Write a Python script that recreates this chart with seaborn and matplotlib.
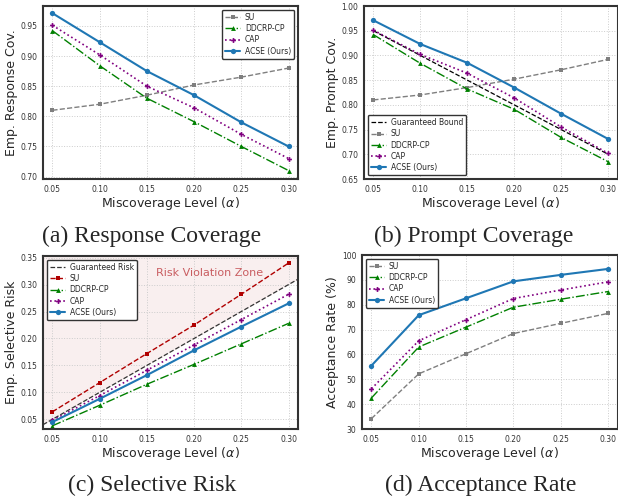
import matplotlib

matplotlib.use("Agg")
import matplotlib.pyplot as plt
import numpy as np
import pandas as pd
import seaborn as sns

# Miscoverage levels shared by all panels
alphas = [0.05, 0.10, 0.15, 0.20, 0.25, 0.30]
methods = ["SU", "DDCRP-CP", "CAP", "ACSE (Ours)"]

# (a) empirical response coverage
resp_su = [0.810, 0.820, 0.835, 0.852, 0.865, 0.880]
resp_ddcrp = [0.942, 0.884, 0.830, 0.791, 0.750, 0.710]
resp_cap = [0.951, 0.902, 0.850, 0.814, 0.770, 0.730]
resp_acse = [0.971, 0.923, 0.875, 0.835, 0.790, 0.750]

# (b) empirical prompt coverage
prompt_su = [0.810, 0.820, 0.835, 0.852, 0.871, 0.892]
prompt_ddcrp = [0.942, 0.884, 0.832, 0.791, 0.734, 0.685]
prompt_cap = [0.951, 0.902, 0.864, 0.814, 0.755, 0.702]
prompt_acse = [0.971, 0.923, 0.885, 0.835, 0.782, 0.731]

# (c) empirical selective risk
risk_su = [0.064, 0.118, 0.172, 0.225, 0.282, 0.340]
risk_ddcrp = [0.038, 0.076, 0.115, 0.152, 0.190, 0.228]
risk_cap = [0.048, 0.094, 0.141, 0.188, 0.235, 0.282]
risk_acse = [0.045, 0.088, 0.132, 0.178, 0.222, 0.265]

# (d) acceptance rate (%)
acc_su = [34.2, 52.2, 60.3, 68.4, 72.5, 76.5]
acc_ddcrp = [42.5, 63.0, 71.0, 79.0, 82.2, 85.3]
acc_cap = [46.2, 65.5, 74.0, 82.5, 85.9, 89.2]
acc_acse = [55.5, 75.8, 82.6, 89.4, 92.0, 94.4]

GRAY = "#7f7f7f"
DARKRED = "#b00000"
GREEN = "#008000"
PURPLE = "#800080"
BLUE = "#1f77b4"

FS_TICK = 5.5
FS_LEG = 5.5
FS_LABEL = 9
FS_CAP = 17


def style_for(method, su_color):
    if method == "SU":
        return dict(color=su_color, marker="s", linestyle="--", linewidth=1.0, markersize=3.2)
    if method == "DDCRP-CP":
        return dict(color=GREEN, marker="^", linestyle="-.", linewidth=1.0, markersize=3.5)
    if method == "CAP":
        return dict(color=PURPLE, marker="P", linestyle=":", linewidth=1.2, markersize=3.5)
    return dict(color=BLUE, marker="o", linestyle="-", linewidth=1.5, markersize=3.8)


def draw_methods(ax, series, su_color=GRAY):
    for method, vals in zip(methods, series):
        df = pd.DataFrame({"alpha": alphas, "value": vals})
        sns.lineplot(
            data=df, x="alpha", y="value", ax=ax, label=method,
            markeredgewidth=0, **style_for(method, su_color),
        )


def finish(ax, ylabel, yticks, yfmt, ylim, legend_loc):
    ax.set_xlim(0.04, 0.31)
    ax.set_ylim(*ylim)
    ax.set_xticks(alphas)
    ax.set_xticklabels([f"{a:.2f}" for a in alphas])
    ax.set_yticks(yticks)
    ax.set_yticklabels([yfmt.format(t) for t in yticks])
    ax.set_xlabel(r"Miscoverage Level ($\alpha$)", fontsize=FS_LABEL, labelpad=1)
    ax.set_ylabel(ylabel, fontsize=FS_LABEL, labelpad=2)
    ax.tick_params(axis="both", labelsize=FS_TICK, length=2.5, width=0.8,
                   colors="#333333", pad=1.5)
    ax.grid(True, linestyle=":", color="#cccccc", linewidth=0.7)
    for sp in ax.spines.values():
        sp.set_color("#333333")
        sp.set_linewidth(1.5)
    leg = ax.legend(loc=legend_loc, fontsize=FS_LEG, frameon=True, fancybox=True,
                    handlelength=2.0, borderpad=0.4, labelspacing=0.3,
                    handletextpad=0.6, framealpha=1.0)
    leg.get_frame().set_edgecolor("#333333")
    leg.get_frame().set_linewidth(1.0)


sns.set_style("whitegrid")
plt.rcParams["font.family"] = ["DejaVu Sans"]

fig = plt.figure(figsize=(6.18, 4.98), dpi=100)
W, H = 618.0, 498.0


def axes_px(left, top, right, bottom):
    return fig.add_axes([left / W, 1 - bottom / H, (right - left) / W, (bottom - top) / H])


ax_a = axes_px(43, 6, 298, 179)
ax_b = axes_px(364, 6, 617.5, 179)
ax_c = axes_px(43, 256, 298, 429)
ax_d = axes_px(362, 255, 617.5, 429)

# (a) Response coverage
draw_methods(ax_a, [resp_su, resp_ddcrp, resp_cap, resp_acse])
finish(ax_a, "Emp. Response Cov.", np.arange(0.70, 0.951, 0.05), "{:.2f}",
       (0.696, 0.983), "upper right")

# (b) Prompt coverage with guaranteed bound 1 - alpha
bound = [1 - a for a in alphas]
ax_b.plot(alphas, bound, color="black", linestyle="--", linewidth=0.9,
          label="Guaranteed Bound")
draw_methods(ax_b, [prompt_su, prompt_ddcrp, prompt_cap, prompt_acse])
finish(ax_b, "Emp. Prompt Cov.", np.arange(0.65, 1.001, 0.05), "{:.2f}",
       (0.65, 1.00), "lower left")

# (c) Selective risk with risk = alpha reference and violation zone
ax_c.set_xlim(0.04, 0.31)
ax_c.set_ylim(0.032, 0.353)
xs = np.array(ax_c.get_xlim())
ax_c.fill_between(xs, xs, 0.353, color="#c44e52", alpha=0.09, linewidth=0, zorder=0)
ax_c.plot(xs, xs, color="#333333", linestyle="--", linewidth=0.9, label="Guaranteed Risk")
draw_methods(ax_c, [risk_su, risk_ddcrp, risk_cap, risk_acse], su_color=DARKRED)
ax_c.text(0.216, 0.322, "Risk Violation Zone", color="#c44e52", fontsize=8,
          ha="center", va="center", alpha=0.9)
finish(ax_c, "Emp. Selective Risk", np.arange(0.05, 0.351, 0.05), "{:.2f}",
       (0.032, 0.353), "upper left")

# (d) Acceptance rate
draw_methods(ax_d, [acc_su, acc_ddcrp, acc_cap, acc_acse])
finish(ax_d, "Acceptance Rate (%)", np.arange(30, 101, 10), "{:.0f}",
       (30, 100), "upper left")

# Sub-figure captions
cap_font = dict(family="Liberation Serif", fontsize=FS_CAP, ha="center", va="center")
fig.text(152 / W, 1 - 236 / H, "(a) Response Coverage", **cap_font)
fig.text(474 / W, 1 - 236 / H, "(b) Prompt Coverage", **cap_font)
fig.text(152 / W, 1 - 485 / H, "(c) Selective Risk", **cap_font)
fig.text(481 / W, 1 - 485 / H, "(d) Acceptance Rate", **cap_font)

fig.savefig("out.png", dpi=100)
plt.close(fig)
